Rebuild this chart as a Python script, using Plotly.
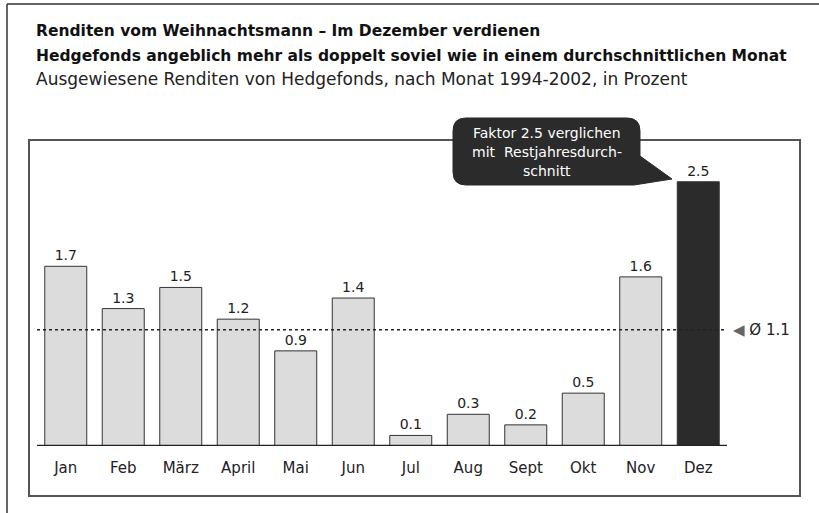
import plotly.graph_objects as go

# ---- data ----
months = ["Jan", "Feb", "März", "April", "Mai", "Jun", "Jul", "Aug", "Sept", "Okt", "Nov", "Dez"]
returns = [1.7, 1.3, 1.5, 1.2, 0.9, 1.4, 0.1, 0.3, 0.2, 0.5, 1.6, 2.5]
average = 1.1
highlight = "Dez"

title_1 = "Renditen vom Weihnachtsmann – Im Dezember verdienen"
title_2 = "Hedgefonds angeblich mehr als doppelt soviel wie in einem durchschnittlichen Monat"
subtitle = "Ausgewiesene Renditen von Hedgefonds, nach Monat 1994-2002, in Prozent"
callout_lines = ["Faktor 2.5 verglichen", "mit\u00a0 Restjahresdurch-", "schnitt"]

# ---- layout geometry (pixels) ----
W, H = 819, 513
L, R, T, B = 37, 727, 140, 446
PX_PER_UNIT = 105.7


def px(x):
    return (x - L) / (R - L)


def py(y):
    return (B - y) / (B - T)


FONT = "DejaVu Sans, Liberation Sans, Arial, sans-serif"

colors = ["#2b2b2b" if m == highlight else "#dcdcdc" for m in months]

fig = go.Figure()
fig.add_trace(go.Bar(
    x=months, y=returns,
    marker=dict(color=colors, line=dict(color="#333333", width=1)),
    text=[f"{v:.1f}" for v in returns],
    textposition="outside",
    textfont=dict(family=FONT, size=14, color="#222222"),
    cliponaxis=False,
    hoverinfo="skip",
))

shapes = []
# outer frame (top and left edge)
shapes.append(dict(type="line", xref="paper", yref="paper", x0=px(7), x1=px(830), y0=py(4), y1=py(4),
                   line=dict(color="#333333", width=1.5)))
shapes.append(dict(type="line", xref="paper", yref="paper", x0=px(7), x1=px(7), y0=py(4), y1=py(530),
                   line=dict(color="#333333", width=1.5)))
# inner box
shapes.append(dict(type="rect", xref="paper", yref="paper", x0=px(29), x1=px(800), y0=py(140), y1=py(496),
                   line=dict(color="#555555", width=2), layer="below"))
# baseline
shapes.append(dict(type="line", xref="paper", yref="y", x0=0, x1=1, y0=0, y1=0,
                   line=dict(color="#222222", width=2.5)))
# average line
shapes.append(dict(type="line", xref="paper", yref="y", x0=0, x1=1.0, y0=average, y1=average,
                   line=dict(color="#222222", width=1.5, dash="dot"), layer="above"))


# callout bubble
def P(x, y):
    return f"{px(x):.5f},{py(y):.5f}"


x0c, x1c, y0c, y1c, r = 453, 640, 118, 185, 13
path = (
    f"M{P(x0c + r, y0c)} L{P(x1c - r, y0c)} Q{P(x1c, y0c)} {P(x1c, y0c + r)} "
    f"L{P(x1c, 156)} L{P(672, 179)} L{P(x1c - 6, y1c)} "
    f"L{P(x0c + r, y1c)} Q{P(x0c, y1c)} {P(x0c, y1c - r)} "
    f"L{P(x0c, y0c + r)} Q{P(x0c, y0c)} {P(x0c + r, y0c)} Z"
)
shapes.append(dict(type="path", xref="paper", yref="paper", path=path,
                   fillcolor="#2b2b2b", line=dict(color="#2b2b2b", width=1)))

annotations = []
# titles
annotations.append(dict(text=f"<b>{title_1}</b>", x=px(34), y=py(31), xref="paper", yref="paper",
                        xanchor="left", yanchor="middle", showarrow=False,
                        font=dict(family=FONT, size=15.5, color="#111111")))
annotations.append(dict(text=f"<b>{title_2}</b>", x=px(34), y=py(56), xref="paper", yref="paper",
                        xanchor="left", yanchor="middle", showarrow=False,
                        font=dict(family=FONT, size=15.5, color="#111111")))
annotations.append(dict(text=subtitle, x=px(34), y=py(79), xref="paper", yref="paper",
                        xanchor="left", yanchor="middle", showarrow=False,
                        font=dict(family=FONT, size=17, color="#222222")))
# callout text
for i, line in enumerate(callout_lines):
    annotations.append(dict(text=line, x=px(547), y=py(133 + i * 19), xref="paper", yref="paper",
                            xanchor="center", yanchor="middle", showarrow=False,
                            font=dict(family=FONT, size=14, color="#ffffff")))
# average label
annotations.append(dict(text=f"<span style='color:#666666'>◀</span> Ø {average:.1f}",
                        x=px(731), y=average, xref="paper", yref="y",
                        xanchor="left", yanchor="middle", showarrow=False,
                        font=dict(family=FONT, size=15, color="#222222")))

fig.update_layout(
    width=W, height=H,
    margin=dict(l=L, r=W - R, t=T, b=H - B, pad=0),
    paper_bgcolor="white", plot_bgcolor="white",
    showlegend=False,
    bargap=0.27,
    shapes=shapes,
    annotations=annotations,
    font=dict(family=FONT),
    xaxis=dict(type="category", range=[-0.5, len(months) - 0.5], showgrid=False, zeroline=False,
               showline=False, ticks="", ticklabelstandoff=11,
               tickfont=dict(family=FONT, size=15, color="#222222"), fixedrange=True),
    yaxis=dict(range=[0, (B - T) / PX_PER_UNIT], showgrid=False, zeroline=False, showline=False,
               showticklabels=False, ticks="", fixedrange=True),
)

fig.write_html("out.html", config={"displayModeBar": False},
               post_script="document.body.style.margin='0';")
